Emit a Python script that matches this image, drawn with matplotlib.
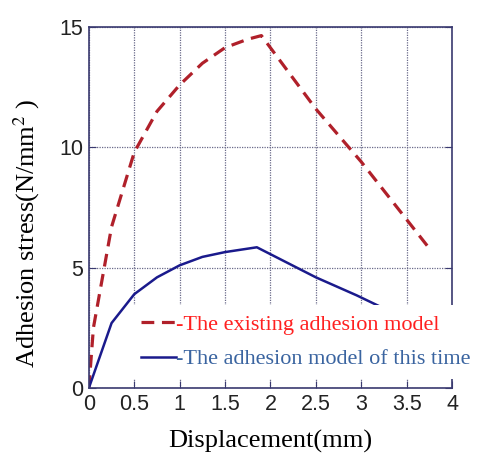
import matplotlib as mpl
import matplotlib.pyplot as plt

mpl.use('agg')
plt.rcParams['mathtext.fontset'] = 'stix'

# existing adhesion model (red dashed)
disp_old = [0, 0.05, 0.25, 0.5, 0.75, 1.0, 1.25, 1.5, 1.75, 1.9, 2.5, 3.0, 3.5, 3.75]
stress_old = [0, 2.5, 6.7, 9.8, 11.5, 12.6, 13.5, 14.15, 14.5, 14.65, 11.6, 9.4, 7.0, 5.8]

# adhesion model of this time (blue solid)
disp_new = [0, 0.25, 0.5, 0.75, 1.0, 1.25, 1.5, 1.85, 2.5, 2.95, 3.75]
stress_new = [0, 2.7, 3.9, 4.6, 5.1, 5.45, 5.65, 5.85, 4.6, 3.85, 2.4]

x_ticks = [0, 0.5, 1, 1.5, 2, 2.5, 3, 3.5, 4]
x_labels = ['0', '0.5', '1', '1.5', '2', '2.5', '3', '3.5', '4']
y_ticks = [0, 5, 10, 15]

frame_col = '#3a3a70'

fig = plt.figure(figsize=(4.83, 4.53), dpi=100)
ax = fig.add_axes([0.184, 0.1435, 0.752, 0.7965])

ax.plot(disp_old, stress_old, color='#b0202a', lw=2.3, linestyle=(0, (4, 2.4)),
        label='-The existing adhesion model')
ax.plot(disp_new, stress_new, color='#1a1a8c', lw=1.8,
        label='-The adhesion model of this time')

ax.set_xlim(0, 4)
ax.set_ylim(0, 15)
ax.set_xticks(x_ticks, labels=x_labels)
ax.set_yticks(y_ticks)
ax.grid(True, color='#6a6a8a', linestyle=(0, (1, 1)), lw=0.9)
for s in ax.spines.values():
    s.set_color(frame_col)
    s.set_linewidth(1.2)
ax.tick_params(direction='in', top=False, right=True, length=5, color=frame_col,
               labelsize=15.5, pad=4, labelcolor='#222222')
for lab in ax.get_xticklabels() + ax.get_yticklabels():
    lab.set_family('Liberation Sans')

ax.set_xlabel('Displacement(mm)', family='Liberation Serif', fontsize=19, labelpad=11)
ax.set_ylabel('Adhesion stress(N/mm$^{2}$ )', family='Liberation Serif', fontsize=19)
ax.yaxis.set_label_coords(-0.13, 0.43)

leg = ax.legend(loc='upper left', bbox_to_anchor=(0.085, 0.262), frameon=True,
                prop={'family': 'Liberation Serif', 'size': 16}, handlelength=1.6,
                handletextpad=0.0, borderpad=0.45, labelspacing=0.62, fancybox=False)
leg.get_frame().set_facecolor('white')
leg.get_frame().set_edgecolor('none')
leg.get_frame().set_alpha(1)
leg.get_texts()[0].set_color('#ff2020')
leg.get_texts()[1].set_color('#3a64a0')
leg.set_zorder(5)

plt.savefig('out.png', dpi=100)
plt.close(fig)
